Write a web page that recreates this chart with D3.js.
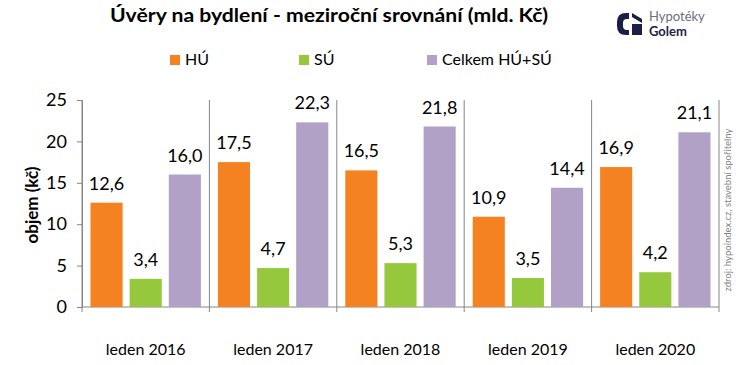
<!DOCTYPE html>
<html>
<head>
<meta charset="utf-8">
<script src="https://cdn.jsdelivr.net/npm/d3@7/dist/d3.min.js"></script>
<style>
  body { margin: 0; background: #fff; }
  svg text { font-family: Lato, "Open Sans", sans-serif; fill: #000; }
</style>
</head>
<body>
<div id="chart-area"></div>
<script>
var categories = ['leden 2016', 'leden 2017', 'leden 2018', 'leden 2019', 'leden 2020']
var seriesNames = ['HÚ', 'SÚ', 'Celkem HÚ+SÚ']
var hu = [12.6, 17.5, 16.5, 10.9, 16.9]
var su = [3.4, 4.7, 5.3, 3.5, 4.2]
var celkem = [16.0, 22.3, 21.8, 14.4, 21.1]
var yTicks = [0, 5, 10, 15, 20, 25]
var colors = ['#f58220', '#95c83d', '#b1a1c7']

var margin = { left: 82, right: 21, top: 100, bottom: 58 }
var width = 740 - margin.left - margin.right
var height = 365 - margin.top - margin.bottom

var svg = d3.select('#chart-area')
    .append('svg')
        .attr('width', 740)
        .attr('height', 365)

var g = svg.append('g')
    .attr('transform', `translate(${margin.left}, ${margin.top})`)

var data = categories.map((c, i) => ({ cat: c, values: [hu[i], su[i], celkem[i]] }))

// X Scale
var x = d3.scaleBand()
    .domain(categories)
    .range([0, width])
    .paddingInner(0)
    .paddingOuter(0)

var x1 = d3.scaleBand()
    .domain(seriesNames)
    .range([8.5, x.bandwidth() - 8.5])
    .paddingInner(0.18)

// Y Scale
var y = d3.scaleLinear()
    .domain([0, 25])
    .range([height, 0])

// Y axis
var yAxis = g.append('g')
    .call(d3.axisLeft(y).tickValues(yTicks).tickSize(5).tickPadding(10))
yAxis.select('.domain').attr('stroke', '#868686')
yAxis.selectAll('.tick line').attr('stroke', '#868686')
yAxis.selectAll('.tick text')
    .attr('font-size', '18px')
    .style('font-family', 'Lato, sans-serif')

// X axis line + separators
g.append('line')
    .attr('x1', 0).attr('x2', width)
    .attr('y1', height).attr('y2', height)
    .attr('stroke', '#868686')

var seps = categories.map(c => x(c)).concat([width])
g.selectAll('.sep')
    .data(seps)
    .enter().append('line')
        .attr('class', 'sep')
        .attr('x1', d => d).attr('x2', d => d)
        .attr('y1', 0)
        .attr('y2', height + 5)
        .attr('stroke', '#868686')

// category labels
g.selectAll('.cat-label')
    .data(categories)
    .enter().append('text')
        .attr('class', 'cat-label')
        .attr('x', d => x(d) + x.bandwidth() / 2)
        .attr('y', height + 48)
        .attr('text-anchor', 'middle')
        .attr('font-size', '16px')
        .text(d => d)

// bars
var groups = g.selectAll('.grp')
    .data(data)
    .enter().append('g')
        .attr('class', 'grp')
        .attr('transform', d => `translate(${x(d.cat)}, 0)`)

groups.selectAll('rect')
    .data(d => d.values.map((v, i) => ({ name: seriesNames[i], value: v, i: i })))
    .enter().append('rect')
        .attr('x', d => x1(d.name))
        .attr('width', x1.bandwidth())
        .attr('y', d => y(d.value))
        .attr('height', d => height - y(d.value))
        .attr('fill', d => colors[d.i])

groups.selectAll('.val')
    .data(d => d.values.map((v, i) => ({ name: seriesNames[i], value: v })))
    .enter().append('text')
        .attr('class', 'val')
        .attr('x', d => x1(d.name) + x1.bandwidth() / 2)
        .attr('y', d => y(d.value) - 13)
        .attr('text-anchor', 'middle')
        .attr('font-size', '18px')
        .text(d => d.value.toFixed(1).replace('.', ','))

// y label
svg.append('text')
    .attr('transform', 'translate(38, 205) rotate(-90)')
    .attr('text-anchor', 'middle')
    .attr('font-size', '17px')
    .attr('font-weight', 'bold')
    .text('objem (kč)')

// title (stretched to Calibri-like width)
svg.append('text')
    .attr('x', 110)
    .attr('y', 22)
    .attr('font-size', '18.5px')
    .attr('font-weight', 'bold')
    .attr('textLength', 438)
    .attr('lengthAdjust', 'spacingAndGlyphs')
    .text('Úvěry na bydlení - meziroční srovnání (mld. Kč)')

// legend
var legendX = [170, 299, 427]
var legend = svg.selectAll('.legend')
    .data(seriesNames)
    .enter().append('g')
        .attr('class', 'legend')
        .attr('transform', (d, i) => `translate(${legendX[i]}, 55)`)
legend.append('rect')
    .attr('width', 10).attr('height', 10)
    .attr('fill', (d, i) => colors[i])
legend.append('text')
    .attr('x', 15)
    .attr('y', 10)
    .attr('font-size', '16px')
    .text(d => d)

// source note
svg.append('text')
    .attr('transform', 'translate(731, 210) rotate(-90)')
    .attr('text-anchor', 'middle')
    .attr('font-size', '9.5px')
    .style('fill', '#7f7f7f')
    .text('zdroj: hypoindex.cz, stavební spořitelny')

// logo
var logo = svg.append('g').attr('transform', 'translate(617, 13)')
logo.append('path')
    .attr('d', 'M9,0 H12 V6 H10 Q6,6 6,10 V13 Q6,17 10,17 H12 V22 H9 Q0,22 0,13 V9 Q0,0 9,0 Z')
    .attr('fill', '#1b1f45')
logo.append('path')
    .attr('d', 'M15,0 L25,6 V10 L15,4 Z M15,11 H25 V22 H15 Z')
    .attr('fill', '#1b1f45')
logo.append('text')
    .attr('x', 32).attr('y', 8)
    .attr('font-size', '13px')
    .style('fill', '#6b6e80')
    .text('Hypotéky')
logo.append('text')
    .attr('x', 32).attr('y', 23)
    .attr('font-size', '13px')
    .attr('font-weight', 'bold')
    .style('fill', '#1b1f45')
    .text('Golem')
</script>
</body>
</html>
